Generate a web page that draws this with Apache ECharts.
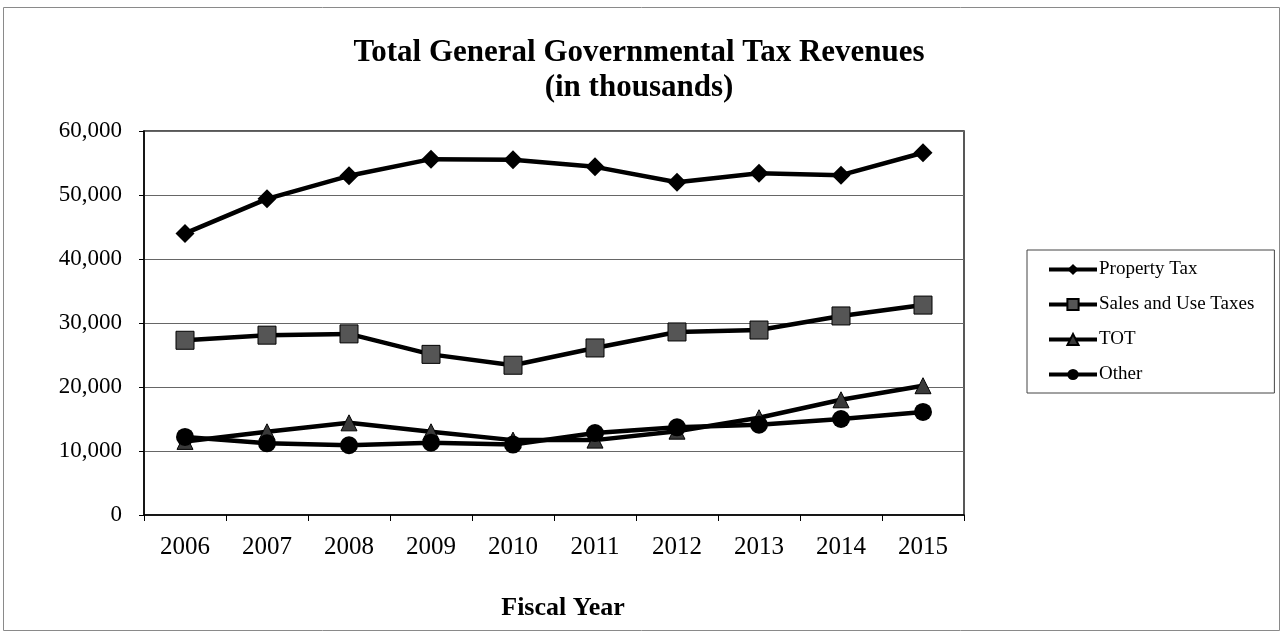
<!DOCTYPE html>
<html>
<head>
<meta charset="utf-8">
<script src="https://cdn.jsdelivr.net/npm/echarts@6/dist/echarts.min.js"></script>
<style>
  html, body { margin: 0; padding: 0; background: #fff; }
  #chart { width: 1282px; height: 632px; }
</style>
</head>
<body>
<div id="chart"></div>
<script>
// Fiscal years on the category axis
const years = ['2006', '2007', '2008', '2009', '2010', '2011', '2012', '2013', '2014', '2015'];

// Revenues, in thousands of dollars
const propertyTax = [44000, 49400, 53000, 55600, 55500, 54400, 52000, 53400, 53100, 56600];
const salesUseTaxes = [27300, 28100, 28300, 25100, 23400, 26100, 28600, 28900, 31100, 32800];
const tot = [11500, 13000, 14400, 13000, 11700, 11700, 13100, 15200, 18000, 20200];
const other = [12200, 11200, 10900, 11300, 11000, 12800, 13700, 14100, 15000, 16100];

// Value-axis ticks
const yTicks = [0, 10000, 20000, 30000, 40000, 50000, 60000];

const serif = "'Liberation Serif', 'Times New Roman', serif";

const chart = echarts.init(document.getElementById('chart'));

function lineSeries(name, data, symbol, size, fill) {
  return {
    name: name,
    type: 'line',
    data: data,
    symbol: symbol,
    symbolSize: size,
    showAllSymbol: true,
    lineStyle: { color: '#000', width: 4.5 },
    itemStyle: { color: fill, borderColor: '#000', borderWidth: fill === '#000' ? 0 : 1 },
    emphasis: { disabled: true },
    animation: false
  };
}

chart.setOption({
  animation: false,
  backgroundColor: '#fff',
  title: {
    text: 'Total General Governmental Tax Revenues\n(in thousands)',
    left: 634,
    textAlign: 'center',
    top: 30,
    textStyle: {
      fontFamily: serif,
      fontWeight: 'bold',
      fontSize: 31,
      lineHeight: 35,
      color: '#000'
    }
  },
  graphic: [{
    type: 'rect',
    shape: { x: 3.5, y: 7.5, width: 1276, height: 623 },
    style: { fill: 'none', stroke: '#8a8a8a', lineWidth: 1 },
    silent: true
  }],
  legend: {
    orient: 'vertical',
    left: 1027,
    top: 250,
    padding: [10, 20, 9, 20],
    itemGap: 16,
    itemWidth: 48,
    itemHeight: 14,
    borderColor: '#444',
    borderWidth: 1,
    lineStyle: { width: 4, color: '#000' },
    textStyle: { fontFamily: serif, fontSize: 19, color: '#000', padding: [0, 0, 0, -3] },
    data: ['Property Tax', 'Sales and Use Taxes', 'TOT', 'Other']
  },
  grid: { left: 144, right: 318, top: 131, bottom: 117, show: true, borderColor: '#222', borderWidth: 1.5, containLabel: false },
  xAxis: {
    type: 'category',
    data: years,
    boundaryGap: true,
    axisLine: { lineStyle: { color: '#000', width: 1.5 } },
    axisTick: { show: true, length: 6, lineStyle: { color: '#000' } },
    axisLabel: { fontFamily: serif, fontSize: 25, color: '#000', margin: 20 },
    name: 'Fiscal Year',
    nameLocation: 'middle',
    nameGap: 80,
    nameTextStyle: { fontFamily: serif, fontSize: 26, fontWeight: 'bold', color: '#000', padding: [0, 0, 0, 18] }
  },
  yAxis: {
    type: 'value',
    min: yTicks[0],
    max: yTicks[yTicks.length - 1],
    interval: yTicks[1] - yTicks[0],
    axisLine: { show: true, lineStyle: { color: '#000', width: 1.5 } },
    axisTick: { show: true, length: 5, lineStyle: { color: '#000' } },
    axisLabel: {
      fontFamily: serif, fontSize: 23, color: '#000', margin: 22,
      formatter: v => v.toLocaleString('en-US')
    },
    splitLine: { lineStyle: { color: '#666', width: 1 } }
  },
  series: [
    lineSeries('Property Tax', propertyTax, 'diamond', 19, '#000'),
    lineSeries('Sales and Use Taxes', salesUseTaxes, 'rect', 18, '#555'),
    lineSeries('TOT', tot, 'triangle', 16, '#3a3a3a'),
    lineSeries('Other', other, 'circle', 18, '#000')
  ]
});
</script>
</body>
</html>
